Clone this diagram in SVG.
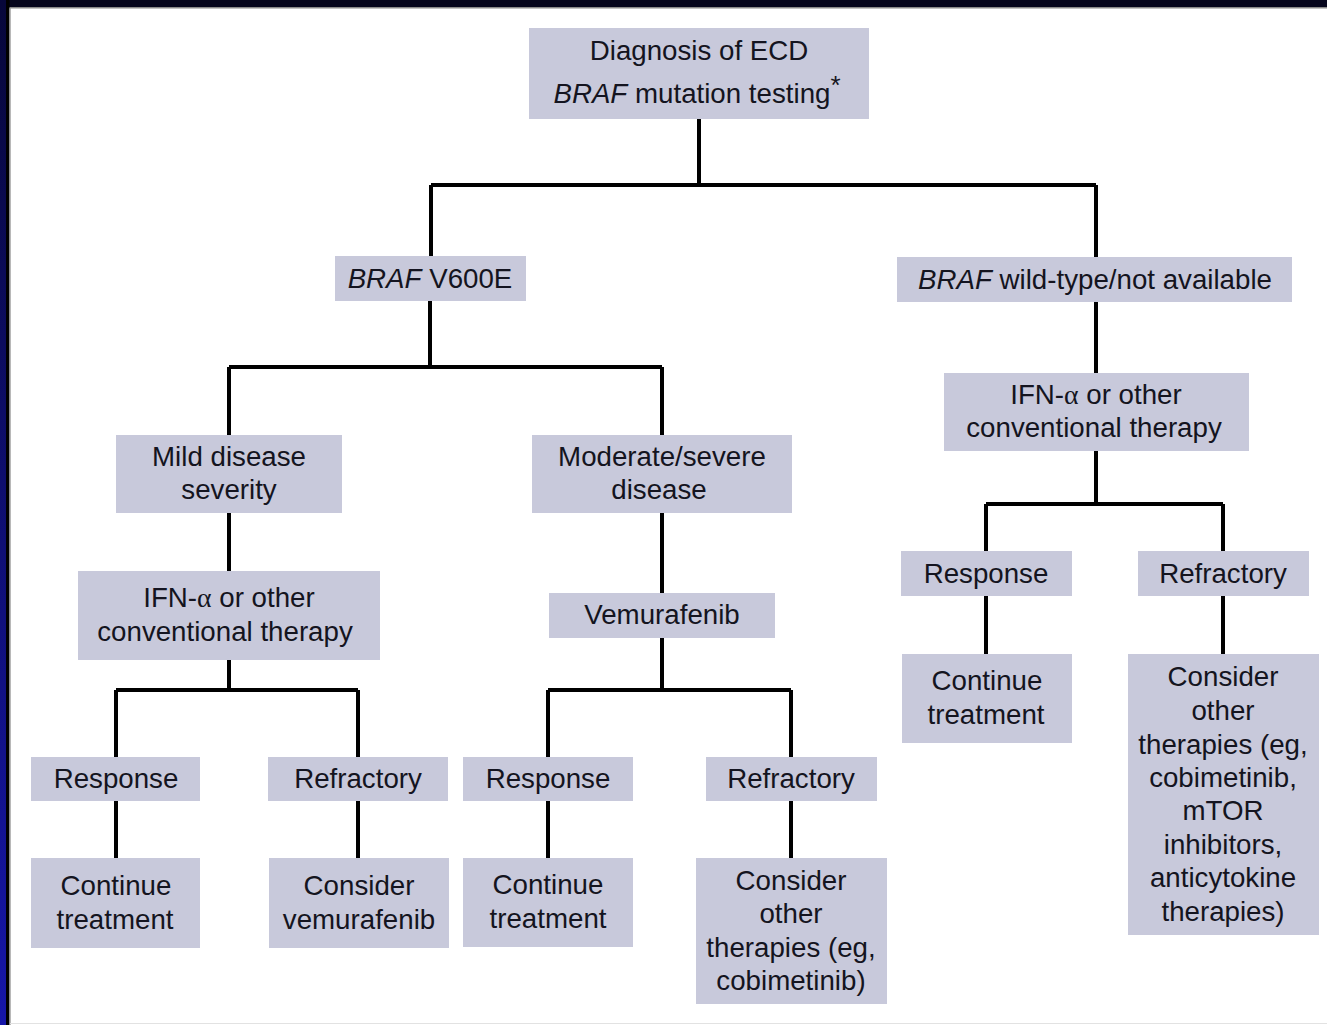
<svg xmlns="http://www.w3.org/2000/svg" width="1327" height="1025" viewBox="0 0 1327 1025">
<defs>
<linearGradient id="lb" x1="0" y1="0" x2="0" y2="1">
<stop offset="0" stop-color="#07073a"/>
<stop offset="1" stop-color="#1616a8"/>
</linearGradient>
<style>
.box{fill:#c8c9db}
text{font-family:"Liberation Sans",Arial,sans-serif;font-size:27.7px;fill:#141420;text-anchor:middle}
.i{font-style:italic}
.a{font-family:"Liberation Serif","Times New Roman",serif}
.c{fill:none;stroke:#000;stroke-width:4}
</style>
</defs>
<rect x="0" y="0" width="1327" height="1025" fill="#fff"/>
<rect x="0" y="0" width="1327" height="7" fill="#05051c"/>
<rect x="0" y="7" width="1327" height="1.5" fill="#8a8a8a"/>
<rect x="0" y="0" width="6" height="1025" fill="url(#lb)"/>
<rect x="6" y="0" width="3.5" height="1025" fill="#000"/>
<rect x="9.5" y="8" width="1.2" height="1017" fill="#9a9a9a"/>
<rect x="10" y="1023" width="1317" height="1" fill="#e2e2e2"/>

<g id="connectors">
<path class="c" d="M699 119V185M431 185H1096M431 185V256M1096 185V257"/>
<path class="c" d="M430 301V367M229 367H662M229 367V435M662 367V435"/>
<path class="c" d="M1096 302V373M1096 451V504M986 504H1223M986 504V551M1223 504V551M986 596V654M1223 596V654"/>
<path class="c" d="M229 513V571M229 660V690M116 690H358M116 690V757M358 690V757M116 801V858M358 801V858"/>
<path class="c" d="M662 513V593M662 638V690M548 690H791M548 690V757M791 690V757M548 801V858M791 801V858"/>
</g>

<g id="n-diagnosis"><rect class="box" x="529" y="28" width="340" height="91"/>
<text x="699" y="60">Diagnosis of ECD</text>
<text x="697" y="103"><tspan class="i">BRAF</tspan> mutation testing<tspan dy="-9" font-size="26">*</tspan></text></g>

<g id="n-v600e"><rect class="box" x="335" y="256" width="191" height="45"/>
<text x="430" y="288"><tspan class="i">BRAF</tspan> V600E</text></g>

<g id="n-wildtype"><rect class="box" x="897" y="257" width="395" height="45"/>
<text x="1095" y="289"><tspan class="i">BRAF</tspan> wild-type/not available</text></g>

<g id="n-ifn-right"><rect class="box" x="944" y="373" width="305" height="78"/>
<text x="1096" y="404">IFN-<tspan class="a">α</tspan> or other</text>
<text x="1094" y="437">conventional therapy</text></g>

<g id="n-mild"><rect class="box" x="116" y="435" width="226" height="78"/>
<text x="229" y="466">Mild disease</text>
<text x="229" y="499">severity</text></g>

<g id="n-moderate"><rect class="box" x="532" y="435" width="260" height="78"/>
<text x="662" y="466">Moderate/severe</text>
<text x="659" y="499">disease</text></g>

<g id="n-ifn-left"><rect class="box" x="78" y="571" width="302" height="89"/>
<text x="229" y="607">IFN-<tspan class="a">α</tspan> or other</text>
<text x="225" y="641">conventional therapy</text></g>

<g id="n-vemurafenib"><rect class="box" x="549" y="593" width="226" height="45"/>
<text x="662" y="624">Vemurafenib</text></g>

<g id="n-response-r"><rect class="box" x="901" y="551" width="171" height="45"/>
<text x="986" y="583">Response</text></g>

<g id="n-refractory-r"><rect class="box" x="1138" y="551" width="171" height="45"/>
<text x="1223" y="583">Refractory</text></g>

<g id="n-continue-r"><rect class="box" x="902" y="654" width="170" height="89"/>
<text x="987" y="690">Continue</text>
<text x="986" y="724">treatment</text></g>

<g id="n-consider-r"><rect class="box" x="1128" y="654" width="191" height="281"/>
<text x="1223" y="686">Consider</text>
<text x="1223" y="720">other</text>
<text x="1223" y="754">therapies (eg,</text>
<text x="1223" y="787">cobimetinib,</text>
<text x="1223" y="820">mTOR</text>
<text x="1223" y="854">inhibitors,</text>
<text x="1223" y="887">anticytokine</text>
<text x="1223" y="921">therapies)</text></g>

<g id="n-response-l1"><rect class="box" x="31" y="757" width="169" height="44"/>
<text x="116" y="788">Response</text></g>

<g id="n-refractory-l1"><rect class="box" x="268" y="757" width="180" height="44"/>
<text x="358" y="788">Refractory</text></g>

<g id="n-response-l2"><rect class="box" x="463" y="757" width="170" height="44"/>
<text x="548" y="788">Response</text></g>

<g id="n-refractory-l2"><rect class="box" x="706" y="757" width="171" height="44"/>
<text x="791" y="788">Refractory</text></g>

<g id="n-continue-l1"><rect class="box" x="31" y="858" width="169" height="90"/>
<text x="116" y="895">Continue</text>
<text x="115" y="929">treatment</text></g>

<g id="n-consider-vem"><rect class="box" x="269" y="858" width="180" height="90"/>
<text x="359" y="895">Consider</text>
<text x="359" y="929">vemurafenib</text></g>

<g id="n-continue-l2"><rect class="box" x="463" y="858" width="170" height="89"/>
<text x="548" y="894">Continue</text>
<text x="548" y="928">treatment</text></g>

<g id="n-consider-l2"><rect class="box" x="696" y="858" width="191" height="146"/>
<text x="791" y="890">Consider</text>
<text x="791" y="923">other</text>
<text x="791" y="957">therapies (eg,</text>
<text x="791" y="990">cobimetinib)</text></g>
</svg>
